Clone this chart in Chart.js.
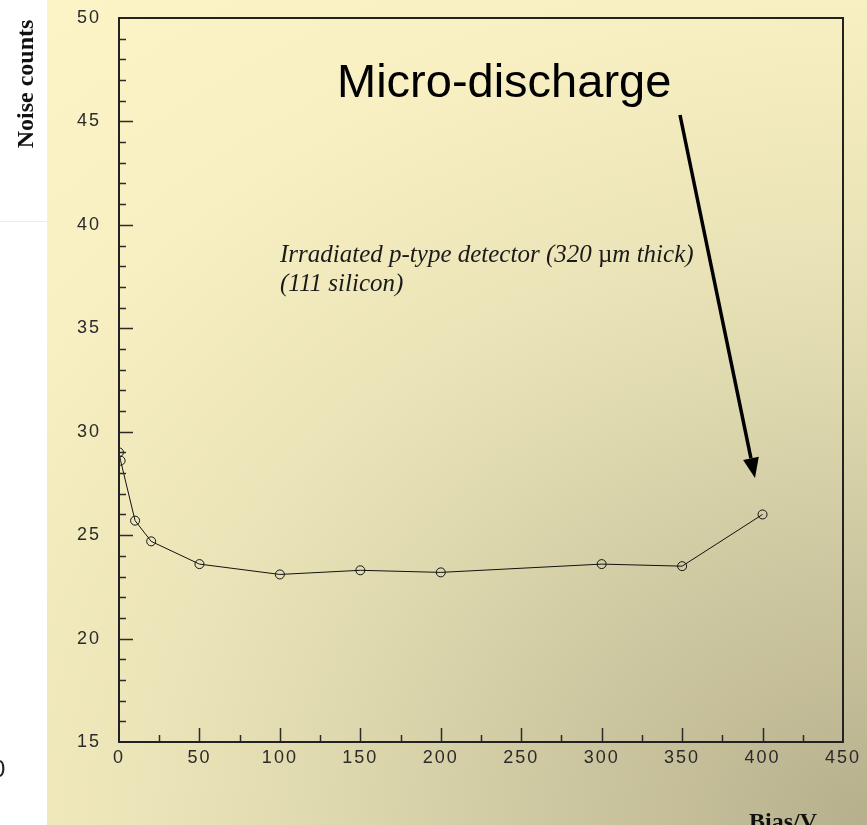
<!DOCTYPE html>
<html>
<head>
<meta charset="utf-8">
<title>Noise counts vs bias</title>
<script src="https://cdn.jsdelivr.net/npm/chart.js@4/dist/chart.umd.min.js"></script>
<style>
  html, body { margin: 0; padding: 0; background: #fff; }
  #wrap { position: relative; width: 867px; height: 825px; overflow: hidden; }
  #panel {
    position: absolute; left: 47px; top: 0; width: 820px; height: 825px;
    background: radial-gradient(ellipse 1100px 900px at 826px 825px,
      #b6af8c 0%, #cbc59f 26%, #dfd9af 50%, #ebe4b8 66%, #f8f0c2 92%, #fcf4c6 118%);
  }
  #rule { position: absolute; left: 0; top: 221px; width: 47px; height: 1px; background: #f1ecd8; }
  canvas { position: absolute; left: 0; top: 0; }
</style>
</head>
<body>
<div id="wrap">
  <div id="panel"></div>
  <div id="rule"></div>
  <canvas id="chartNoise" width="867" height="825"></canvas>
</div>
<script>
// bias voltage (V) and measured noise counts
const biasV = [0, 1, 10, 20, 50, 100, 150, 200, 300, 350, 400];
const noiseCounts = [29.0, 28.6, 25.7, 24.7, 23.6, 23.1, 23.3, 23.2, 23.6, 23.5, 26.0];

const xTicks = [0, 50, 100, 150, 200, 250, 300, 350, 400, 450];
const yTicks = [15, 20, 25, 30, 35, 40, 45, 50];

const titleY = "Noise counts";
const titleX = "Bias/V";
const callout = "Micro-discharge";
const note1 = ["Irradiated p-type detector (320 ", "\u00b5", "m thick)"];
const note2 = "(111 silicon)";

// frame, inward tick marks and the text on the slide
const frameAndText = {
  id: "frameAndText",
  beforeDraw(chart) {
    chart.ctx.letterSpacing = "2px";
  },
  afterDraw(chart) {
    const ctx = chart.ctx;
    const { left, right, top, bottom } = chart.chartArea;
    const x = chart.scales.x, y = chart.scales.y;
    ctx.save();
    ctx.letterSpacing = "0px";

    // ticks
    ctx.strokeStyle = "#2b2b2b";
    ctx.lineWidth = 1.5;
    ctx.beginPath();
    for (let v = 16; v < 50; v++) {
      const py = Math.round(y.getPixelForValue(v)) + 0.5;
      const len = v % 5 === 0 ? 14 : 7;
      ctx.moveTo(left, py);
      ctx.lineTo(left + len, py);
    }
    for (let v = 25; v < 450; v += 25) {
      const px = Math.round(x.getPixelForValue(v)) + 0.5;
      const len = v % 50 === 0 ? 14 : 7;
      ctx.moveTo(px, bottom);
      ctx.lineTo(px, bottom - len);
    }
    ctx.stroke();

    // frame
    ctx.strokeStyle = "#222";
    ctx.lineWidth = 2;
    ctx.strokeRect(left, top, right - left, bottom - top);

    // axis titles
    ctx.fillStyle = "#111";
    ctx.font = "bold 24px 'Liberation Serif'";
    ctx.save();
    ctx.translate(33, 84);
    ctx.rotate(-Math.PI / 2);
    ctx.textAlign = "center";
    ctx.textBaseline = "alphabetic";
    ctx.fillText(titleY, 0, 0);
    ctx.restore();
    ctx.textAlign = "left";
    ctx.fillText(titleX, 749, 829);

    // stray glyph at the slide edge
    ctx.font = "24px 'Liberation Sans'";
    ctx.fillStyle = "#222";
    ctx.fillText("0", -8, 777);

    // callout and arrow
    ctx.fillStyle = "#000";
    ctx.font = "47px 'Liberation Sans'";
    ctx.fillText(callout, 337, 97);

    const x0 = 680, y0 = 115, x1 = 755, y1 = 478;
    const ang = Math.atan2(y1 - y0, x1 - x0);
    const headLen = 20, headW = 8;
    const bx = x1 - headLen * Math.cos(ang), by = y1 - headLen * Math.sin(ang);
    ctx.strokeStyle = "#000";
    ctx.lineWidth = 3.5;
    ctx.beginPath();
    ctx.moveTo(x0, y0);
    ctx.lineTo(bx, by);
    ctx.stroke();
    ctx.beginPath();
    ctx.moveTo(x1, y1);
    ctx.lineTo(bx + headW * Math.sin(ang), by - headW * Math.cos(ang));
    ctx.lineTo(bx - headW * Math.sin(ang), by + headW * Math.cos(ang));
    ctx.closePath();
    ctx.fill();

    // italic note, the micro sign stays upright
    ctx.fillStyle = "#1a1a1a";
    let tx = 280;
    const parts = [
      ["italic 25px 'Liberation Serif'", note1[0]],
      ["25px 'Liberation Serif'", note1[1]],
      ["italic 25px 'Liberation Serif'", note1[2]]
    ];
    parts.forEach(([f, s]) => {
      ctx.font = f;
      ctx.fillText(s, tx, 262);
      tx += ctx.measureText(s).width;
    });
    ctx.font = "italic 25px 'Liberation Serif'";
    ctx.fillText(note2, 280, 291);

    ctx.restore();
  }
};

new Chart(document.getElementById("chartNoise"), {
  type: "scatter",
  data: {
    datasets: [{
      data: biasV.map((v, i) => ({ x: v, y: noiseCounts[i] })),
      showLine: true,
      borderColor: "#111",
      borderWidth: 1,
      pointStyle: "circle",
      pointRadius: 4.5,
      pointBorderWidth: 1,
      pointBorderColor: "#111",
      pointBackgroundColor: "rgba(0,0,0,0)",
      tension: 0
    }]
  },
  options: {
    responsive: false,
    animation: false,
    layout: { padding: { top: 18, right: 24, left: 0, bottom: 0 } },
    plugins: { legend: { display: false }, tooltip: { enabled: false } },
    scales: {
      x: {
        type: "linear",
        min: 0, max: 450,
        afterBuildTicks: s => { s.ticks = xTicks.map(v => ({ value: v })); },
        afterFit: s => { s.height = 83; s.paddingLeft = 0; s.paddingRight = 0; },
        grid: { display: false, drawTicks: false },
        border: { display: false },
        ticks: { padding: 5, color: "#2a2a2a", font: { family: "Liberation Sans", size: 18 }, maxRotation: 0 }
      },
      y: {
        type: "linear",
        min: 15, max: 50,
        afterBuildTicks: s => { s.ticks = yTicks.map(v => ({ value: v })); },
        afterFit: s => { s.width = 119; s.paddingTop = 0; s.paddingBottom = 0; },
        grid: { display: false, drawTicks: false },
        border: { display: false },
        ticks: { padding: 18, color: "#2a2a2a", font: { family: "Liberation Sans", size: 18 } }
      }
    }
  },
  plugins: [frameAndText]
});
</script>
</body>
</html>
